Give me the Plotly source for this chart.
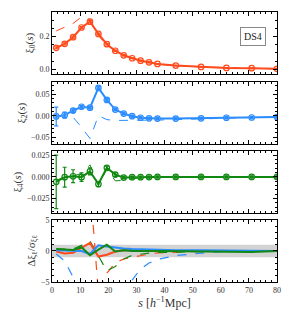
import plotly.graph_objects as go

s = [1.5, 4.5, 7.5, 10.5, 13.5, 16.5, 19.5, 22.5, 25.5, 28.5, 31.5, 34.5, 37.5, 44, 53, 62, 71, 80]

xi0 = [0.131, 0.155, 0.196, 0.255, 0.291, 0.216, 0.153, 0.113, 0.085, 0.067, 0.052, 0.042, 0.032, 0.022, 0.014, 0.008, 0.006, 0.002]
xi0_err = [0.006, 0.006, 0.006, 0.006, 0.006, 0.005, 0.005, 0.004, 0.004, 0.003, 0.003, 0.003, 0.003, 0.002, 0.002, 0.002, 0.002, 0.002]
xi0_dash = [0.234, 0.255, 0.280, 0.320, 0.305, 0.205, 0.148, 0.110, 0.083, 0.065, 0.051, 0.041, 0.031, 0.021, 0.014, 0.008, 0.006, 0.002]

xi2 = [-0.0016, 0.0014, 0.012, 0.021, 0.019, 0.065, 0.037, 0.0145, 0.005, -0.001, -0.0046, -0.006, -0.0066, -0.0066, -0.006, -0.0046, -0.004, -0.003]
xi2_err = [0.022, 0.007, 0.004, 0.003, 0.003, 0.003, 0.003, 0.002, 0.002, 0.002, 0.002, 0.002, 0.002, 0.002, 0.002, 0.002, 0.002, 0.002]
xi2_dash = [0.0, -0.001, -0.003, -0.027, -0.053, 0.0, -0.009, -0.011, -0.011, -0.011, -0.011, -0.010, -0.010, -0.009, -0.007, -0.005, -0.004, -0.003]

xi4 = [-0.0057, -0.0003, 0.0008, -0.0003, 0.0064, -0.0083, 0.0106, 0.0027, -0.0008, -0.0003, -0.0003, -0.0002, 0.0, 0.0, 0.0, 0.0, 0.0, 0.0]
xi4_err = [0.031, 0.0115, 0.0075, 0.005, 0.004, 0.003, 0.002, 0.002, 0.001, 0.001, 0.001, 0.001, 0.001, 0.001, 0.001, 0.001, 0.001, 0.001]
xi4_dash = [-0.004, 0.0, 0.001, 0.004, 0.014, -0.010, 0.009, -0.0045, -0.004, -0.002, -0.001, -0.0005, -0.0003, 0.0, 0.0, 0.0, 0.0, 0.0]

d0 = [-0.1, -0.4, -0.3, 0.5, 1.3, -0.9, -0.6, -0.1, 0.1, 0.1, 0.05, 0.0, 0.0, 0.0, 0.0, 0.0, 0.0, 0.0]
d2 = [0.1, 0.1, 0.05, 0.0, -0.5, 0.9, 0.7, 0.5, 0.4, 0.3, 0.25, 0.2, 0.15, 0.1, 0.1, 0.1, 0.05, 0.0]
d4 = [0.3, 0.2, 0.15, 0.6, -0.7, 0.2, 1.0, -0.1, 0.1, 0.0, -0.05, 0.0, 0.0, -0.05, -0.1, -0.2, -0.15, 0.0]
d0_dash = [20, 18, 16, 14, 10.9, -6.8, -3.6, -1.9, -1.3, -1.0, -0.7, -0.5, -0.3, -0.15, -0.05, 0.0, 0.0, 0.0]
d2_dash = [-0.5, -1.6, -4.2, -7.6, -12, -14, -12, -10, -7, -4.7, -2.9, -1.95, -1.35, -0.75, -0.35, -0.05, 0.05, 0.0]
d4_dash = [0.3, 0.3, 0.3, 0.9, 1.6, -0.8, -3.2, -2.5, -1.3, -0.7, -0.5, -0.35, -0.25, -0.15, -0.1, -0.05, 0.0, 0.0]

ORANGE = "#FF4A1C"
BLUE = "#2A8CFF"
GREEN = "#118811"
FONT = "Liberation Serif"

fig = go.Figure()

def add_panel(row, y, err, ydash, color, filled_from):
    ya = "y" if row == 1 else f"y{row}"
    xa = "x" if row == 1 else f"x{row}"
    fig.add_trace(go.Scatter(x=s, y=ydash, mode="lines", xaxis=xa, yaxis=ya,
                             line=dict(color=color, width=1, dash="dash"), showlegend=False))
    fig.add_trace(go.Scatter(x=s, y=y, mode="lines+markers", xaxis=xa, yaxis=ya,
                             line=dict(color=color, width=2),
                             marker=dict(size=[0 if i < filled_from else 5 for i in range(len(s))], color=color),
                             showlegend=False))
    fig.add_trace(go.Scatter(x=s, y=y, mode="markers", xaxis=xa, yaxis=ya,
                             marker=dict(symbol="circle-open", size=5.5, color=color, line=dict(width=1.2)),
                             error_y=dict(type="data", array=err, color=color, thickness=1.2, width=2),
                             showlegend=False))

add_panel(1, xi0, xi0_err, xi0_dash, ORANGE, 99)
add_panel(2, xi2, xi2_err, xi2_dash, BLUE, 0)
add_panel(3, xi4, xi4_err, xi4_dash, GREEN, 8)

# bottom panel
fig.add_trace(go.Scatter(x=[0, 80, 80, 0], y=[-1, -1, 1, 1], fill="toself", mode="lines",
                         xaxis="x4", yaxis="y4", line=dict(width=0),
                         fillcolor="rgba(200,200,200,0.8)", showlegend=False, hoverinfo="skip"))
for yd, c in [(d0_dash, ORANGE), (d2_dash, BLUE), (d4_dash, GREEN)]:
    fig.add_trace(go.Scatter(x=s, y=yd, mode="lines", xaxis="x4", yaxis="y4",
                             line=dict(color=c, width=1.2, dash="dash"), showlegend=False))
for yd, c in [(d0, ORANGE), (d2, BLUE), (d4, GREEN)]:
    fig.add_trace(go.Scatter(x=s, y=yd, mode="lines", xaxis="x4", yaxis="y4",
                             line=dict(color=c, width=2), showlegend=False))

domains = [[0.770, 1.0], [0.511, 0.741], [0.255, 0.485], [0.0, 0.230]]
yranges = [[-0.03, 0.35], [-0.066, 0.079], [-0.042, 0.030], [-5, 5]]
ytickvals = [[0.0, 0.2], [-0.05, 0.0, 0.05], [-0.025, 0.0, 0.025], [-5, 0, 5]]
yticktext = [["0.0", "0.2"], ["−0.05", "0.00", "0.05"], ["−0.025", "0.000", "0.025"], ["−5", "0", "5"]]
yminor = [0.05, 0.01, 0.005, 1]
ytitles = ["ξ<sub>0</sub>(<i>s</i>)", "ξ<sub>2</sub>(<i>s</i>)", "ξ<sub>4</sub>(<i>s</i>)",
           "Δξ<sub>ℓ</sub>/σ<sub>ξℓ</sub>"]

layout = dict(width=291, height=317, margin=dict(l=52, r=14, t=8, b=35),
              plot_bgcolor="white", paper_bgcolor="white",
              font=dict(family=FONT, size=8, color="#333333"))
for i in range(4):
    n = "" if i == 0 else str(i + 1)
    layout["xaxis" + n] = dict(domain=[0, 1], range=[0, 80], anchor="y" + n,
                               showline=True, mirror="allticks", linecolor="black", linewidth=1,
                               ticks="inside", ticklen=4, tickcolor="black", dtick=10, tick0=0,
                               showticklabels=(i == 3), showgrid=False, zeroline=False,
                               minor=dict(ticks="inside", ticklen=2, dtick=2, tickcolor="black"),
                               title=dict(text="<i>s</i> [<i>h</i><sup>−1</sup>Mpc]" if i == 3 else "",
                                          font=dict(size=12, family=FONT), standoff=4))
    layout["yaxis" + n] = dict(domain=domains[i], range=yranges[i], anchor="x" + n,
                               showline=True, mirror="allticks", linecolor="black", linewidth=1,
                               ticks="inside", ticklen=4, tickcolor="black",
                               tickvals=ytickvals[i], ticktext=yticktext[i],
                               showgrid=False, zeroline=False,
                               minor=dict(ticks="inside", ticklen=2, dtick=yminor[i], tick0=0, tickcolor="black"),
                               title=dict(text=ytitles[i], font=dict(size=11, family=FONT), standoff=3))
fig.update_layout(**layout)

fig.add_annotation(x=71.5, y=0.2, xref="x", yref="y", text="DS4", showarrow=False,
                   font=dict(size=10, family=FONT, color="#222222"),
                   bordercolor="#888888", borderwidth=1, borderpad=3, bgcolor="white")

fig.write_html("out.html", config={"displayModeBar": False},
               post_script="document.body.style.margin='0';document.body.style.overflow='hidden';")
